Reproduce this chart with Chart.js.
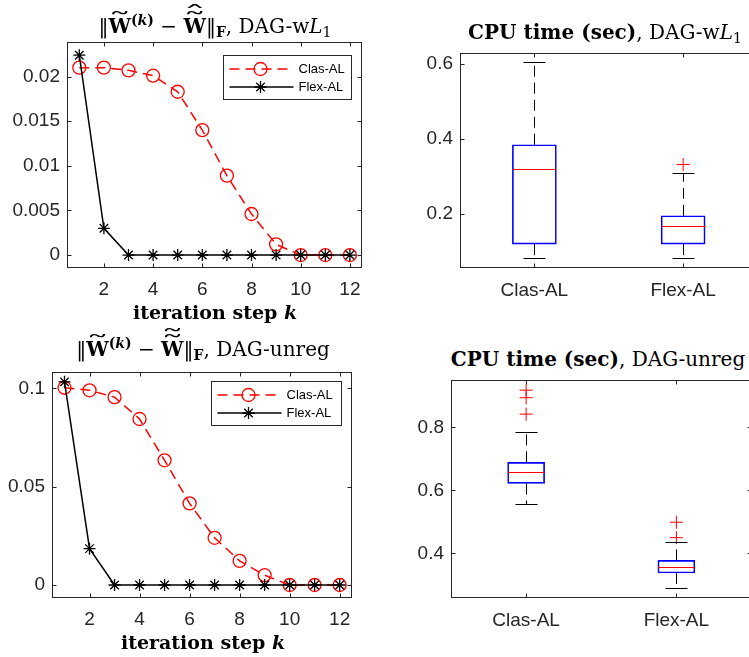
<!DOCTYPE html>
<html lang="en">
<head>
<meta charset="UTF-8" />
<title>Clas-AL vs Flex-AL</title>
<script src="https://cdn.jsdelivr.net/npm/chart.js@4.4.0/dist/chart.umd.min.js"></script>
<style>
  html, body { margin: 0; padding: 0; background: #fff; overflow: hidden; width: 749px; height: 657px; }
  canvas { position: absolute; }
  .lbl {
    position: absolute;
    font-family: 'DejaVu Serif', serif;
    font-size: 20px;
    line-height: 20px;
    color: #000;
    white-space: nowrap;
    transform: translateX(-50%);
  }
  .b { font-weight: bold; }
  .xl { font-size: 19px; }
  sup, sub { font-size: 0.7em; line-height: 0; position: relative; vertical-align: baseline; }
  sup { top: -0.55em; }
  sub { top: 0.3em; }
  .acc { position: relative; display: inline-block; font-weight: bold; }
  .ac { position: absolute; left: 0; right: 0; text-align: center; font-weight: normal; line-height: 1; transform: scaleX(2.4); }
  .a1 { top: -0.3em; }
  .a2 { top: -0.62em; }
</style>
</head>
<body>

<canvas id="errL1"></canvas>
<canvas id="errUnreg"></canvas>
<canvas id="cpuL1"></canvas>
<canvas id="cpuUnreg"></canvas>

<!-- titles and axis labels -->
<div class="lbl" style="left:215px; top:16px">‖<span class="acc">W<span class="ac a1">˜</span></span><sup class="b">(<i>k</i>)</sup> − <span class="acc">W<span class="ac a1">˜</span><span class="ac a2">ˆ</span></span>‖<sub class="b">F</sub>, DAG-w<i>L</i><sub>1</sub></div>
<div class="lbl b xl" style="left:215px; top:302px">iteration step <i>k</i></div>

<div class="lbl" style="left:203px; top:339px">‖<span class="acc">W<span class="ac a1">˜</span></span><sup class="b">(<i>k</i>)</sup> − <span class="acc">W<span class="ac a1">˜</span><span class="ac a2">˜</span></span>‖<sub class="b">F</sub>, DAG-unreg</div>
<div class="lbl b xl" style="left:203px; top:632px">iteration step <i>k</i></div>

<div class="lbl" style="left:605px; top:22px"><b>CPU time (sec)</b>, DAG-w<i>L</i><sub>1</sub></div>
<div class="lbl" style="left:598px; top:349px"><b>CPU time (sec)</b>, DAG-unreg</div>

<script>
// iteration steps
const steps = [1, 2, 3, 4, 5, 6, 7, 8, 9, 10, 11, 12];
const stepTicks = [2, 4, 6, 8, 10, 12];

// ||W(k) - W||_F, DAG-wL1
const clasL1 = [0.0210, 0.0210, 0.0207, 0.0201, 0.0183, 0.0140, 0.0089, 0.0046, 0.0012, 0, 0, 0];
const flexL1 = [0.0224, 0.0030, 0, 0, 0, 0, 0, 0, 0, 0, 0, 0];
const errL1Ticks = [0, 0.005, 0.01, 0.015, 0.02];

// ||W(k) - W||_F, DAG-unreg
const clasUnreg = [0.1003, 0.0990, 0.0955, 0.0844, 0.0634, 0.0415, 0.0240, 0.0123, 0.0050, 0, 0, 0];
const flexUnreg = [0.1033, 0.0185, 0, 0, 0, 0, 0, 0, 0, 0, 0, 0];
const errUnregTicks = [0, 0.05, 0.1];

// CPU time box plots, [Clas-AL, Flex-AL]
const methods = ['Clas-AL', 'Flex-AL'];

const cpuL1Lo  = [0.081, 0.081];
const cpuL1Q1  = [0.118, 0.118];
const cpuL1Med = [0.319, 0.166];
const cpuL1Q3  = [0.384, 0.194];
const cpuL1Hi  = [0.605, 0.309];
const cpuL1Out = [[], [0.331]];
const cpuL1Ticks = [0.2, 0.4, 0.6];

const cpuUnregLo  = [0.556, 0.291];
const cpuUnregQ1  = [0.622, 0.338];
const cpuUnregMed = [0.659, 0.357];
const cpuUnregQ3  = [0.689, 0.378];
const cpuUnregHi  = [0.785, 0.435];
const cpuUnregOut = [[0.918, 0.894, 0.842], [0.499, 0.450]];
const cpuUnregTicks = [0.4, 0.6, 0.8];

const tickFont = { family: '"Liberation Sans", Arial, sans-serif', size: 19 };
const tickColor = '#262626';
const axisColor = '#262626';

// place canvas so that the plot area lands on the given page box
function place(id, ax) {
  const c = document.getElementById(id);
  const L = ax.left - 70, T = ax.top - 6;
  c.width = ax.right - L + 6;
  c.height = ax.bottom - T + 40;
  c.style.left = L + 'px';
  c.style.top = T + 'px';
  return c;
}

function scales(xExtra, yExtra, yTicks, xPad) {
  return {
    x: Object.assign({
      grid: { display: false, drawTicks: false },
      border: { display: false },
      ticks: { font: tickFont, color: tickColor, padding: xPad, maxRotation: 0, autoSkip: false },
      afterFit(s) { s.height = 40; s.paddingLeft = 0; s.paddingRight = 0; }
    }, xExtra),
    y: Object.assign({
      type: 'linear',
      grid: { display: false, drawTicks: false },
      border: { display: false },
      ticks: { font: tickFont, color: tickColor, padding: 7, callback: v => String(v) },
      afterBuildTicks(s) { s.ticks = yTicks.map(v => ({ value: v })); },
      afterFit(s) { s.width = 70; s.paddingTop = 0; s.paddingBottom = 0; }
    }, yExtra)
  };
}

// MATLAB style box around the axes with inward ticks
const frame = {
  id: 'frame',
  beforeDatasetsDraw(chart) {
    const { ctx, chartArea: a, scales: { x, y } } = chart;
    const l = Math.round(a.left) + 0.5, r = Math.round(a.right) - 0.5;
    const t = Math.round(a.top) + 0.5, b = Math.round(a.bottom) - 0.5;
    ctx.save();
    ctx.strokeStyle = axisColor;
    ctx.lineWidth = 1;
    ctx.strokeRect(l, t, r - l, b - t);
    ctx.beginPath();
    x.ticks.forEach((tk, i) => {
      const px = Math.round(x.getPixelForTick(i)) + 0.5;
      ctx.moveTo(px, b); ctx.lineTo(px, b - 4);
      ctx.moveTo(px, t); ctx.lineTo(px, t + 4);
    });
    y.ticks.forEach((tk, i) => {
      const py = Math.round(y.getPixelForTick(i)) + 0.5;
      ctx.moveTo(l, py); ctx.lineTo(l + 4, py);
      ctx.moveTo(r, py); ctx.lineTo(r - 4, py);
    });
    ctx.stroke();
    ctx.restore();
  }
};

// boxed legend in the upper right corner of the plot area
const boxLegend = {
  id: 'boxLegend',
  afterDraw(chart, args, o) {
    if (!o.width) return;
    const { ctx, chartArea: a } = chart;
    const x0 = Math.round(a.right - o.right - o.width) + 0.5;
    const y0 = Math.round(a.top + o.top) + 0.5;
    ctx.save();
    ctx.fillStyle = '#fff';
    ctx.fillRect(x0, y0, o.width, o.height);
    ctx.strokeStyle = axisColor;
    ctx.lineWidth = 1;
    ctx.strokeRect(x0, y0, o.width, o.height);
    chart.data.datasets.forEach((ds, i) => {
      const yy = y0 + 13.5 + i * 18;
      ctx.strokeStyle = ds.borderColor;
      ctx.lineWidth = ds.borderWidth;
      ctx.setLineDash(ds.borderDash || []);
      ctx.beginPath();
      ctx.moveTo(x0 + 6, yy);
      ctx.lineTo(x0 + 70, yy);
      ctx.stroke();
      ctx.setLineDash([]);
      ctx.strokeStyle = ds.pointBorderColor;
      ctx.fillStyle = 'rgba(0,0,0,0)';
      ctx.lineWidth = ds.pointBorderWidth;
      Chart.helpers.drawPoint(ctx, { pointStyle: ds.pointStyle, radius: ds.pointRadius, borderWidth: ds.pointBorderWidth, rotation: 0 }, x0 + 37, yy);
      ctx.fillStyle = '#000';
      ctx.font = '13px "Liberation Sans", Arial, sans-serif';
      ctx.textAlign = 'left';
      ctx.textBaseline = 'middle';
      ctx.fillText(ds.label, x0 + 75, yy + 0.5);
    });
    ctx.restore();
  }
};

// medians, whiskers and caps on top of the floating bars
const boxStats = {
  id: 'boxStats',
  afterDatasetsDraw(chart, args, o) {
    const { ctx, scales: { x, y } } = chart;
    const bars = chart.getDatasetMeta(0).data;
    const seg = (x1, y1, x2, y2) => { ctx.beginPath(); ctx.moveTo(x1, y1); ctx.lineTo(x2, y2); ctx.stroke(); };
    ctx.save();
    ctx.lineWidth = 1;
    o.med.forEach((m, i) => {
      const cx = Math.round(x.getPixelForValue(i)) + 0.5;
      const half = bars[i].width / 2;
      const yLo = Math.round(y.getPixelForValue(o.lo[i])) + 0.5;
      const yHi = Math.round(y.getPixelForValue(o.hi[i])) + 0.5;
      const yQ1 = y.getPixelForValue(o.q1[i]);
      const yQ3 = y.getPixelForValue(o.q3[i]);
      const yMed = Math.round(y.getPixelForValue(m)) + 0.5;
      ctx.strokeStyle = '#000';
      ctx.setLineDash([11, 6]);
      seg(cx, yQ3, cx, yHi);
      seg(cx, yQ1, cx, yLo);
      ctx.setLineDash([]);
      seg(cx - 11, yHi, cx + 11, yHi);
      seg(cx - 11, yLo, cx + 11, yLo);
      ctx.strokeStyle = '#ff0000';
      seg(cx - half, yMed, cx + half, yMed);
    });
    ctx.restore();
  }
};

const pts = vals => steps.map((k, i) => ({ x: k, y: vals[i] }));

function errChart(id, ax, clas, flex, yTicks, yMin, yMax, legendPos) {
  place(id, ax);
  return new Chart(document.getElementById(id), {
    type: 'line',
    data: {
      datasets: [
        { label: 'Clas-AL', data: pts(clas), borderColor: '#ff0000', borderWidth: 1.5, borderDash: [10, 6],
          pointStyle: 'circle', pointRadius: 6.5, pointBorderWidth: 1.3, pointBorderColor: '#ff0000',
          pointBackgroundColor: 'rgba(0,0,0,0)', tension: 0, order: 1 },
        { label: 'Flex-AL', data: pts(flex), borderColor: '#000000', borderWidth: 1.5,
          pointStyle: 'star', pointRadius: 6, pointBorderWidth: 1.3, pointBorderColor: '#000000',
          pointBackgroundColor: 'rgba(0,0,0,0)', tension: 0, order: 0 }
      ]
    },
    options: {
      responsive: false,
      animation: false,
      events: [],
      layout: { padding: { left: 0, top: 6, right: 6, bottom: 0 } },
      plugins: { legend: { display: false }, tooltip: { enabled: false }, boxLegend: legendPos },
      scales: scales(
        { type: 'linear', min: 0.5, max: 12.5, afterBuildTicks(s) { s.ticks = stepTicks.map(v => ({ value: v })); } },
        { min: yMin, max: yMax },
        yTicks, 10)
    },
    plugins: [frame, boxLegend]
  });
}

function cpuChart(id, ax, lo, q1, med, q3, hi, out, yTicks, yMin, yMax, boxW) {
  place(id, ax);
  const outliers = out.flatMap((arr, i) => arr.map(v => ({ x: methods[i], y: v })));
  return new Chart(document.getElementById(id), {
    type: 'bar',
    data: {
      labels: methods,
      datasets: [
        { data: methods.map((m, i) => [q1[i], q3[i]]), backgroundColor: 'rgba(0,0,0,0)',
          borderColor: '#0000ff', borderWidth: 1, borderSkipped: false, barThickness: boxW },
        { type: 'line', data: outliers, showLine: false, pointStyle: 'cross', pointRadius: 6.5,
          pointBorderWidth: 1, pointBorderColor: '#ff0000', pointBackgroundColor: 'rgba(0,0,0,0)' }
      ]
    },
    options: {
      responsive: false,
      animation: false,
      events: [],
      layout: { padding: { left: 0, top: 6, right: 6, bottom: 0 } },
      plugins: { legend: { display: false }, tooltip: { enabled: false },
                 boxStats: { lo, q1, med, q3, hi } },
      scales: scales({ type: 'category', offset: true }, { min: yMin, max: yMax }, yTicks, 11)
    },
    plugins: [frame, boxStats]
  });
}

errChart('errL1', { left: 67, top: 40, right: 364, bottom: 268 }, clasL1, flexL1, errL1Ticks, -0.00145, 0.0239,
  { right: 11, top: 13, width: 128, height: 44 });
errChart('errUnreg', { left: 52, top: 370, right: 354, bottom: 598 }, clasUnreg, flexUnreg, errUnregTicks, -0.0066, 0.1084,
  { right: 11, top: 9, width: 130, height: 44 });
cpuChart('cpuL1', { left: 460, top: 51, right: 759, bottom: 268 },
  cpuL1Lo, cpuL1Q1, cpuL1Med, cpuL1Q3, cpuL1Hi, cpuL1Out, cpuL1Ticks, 0.0543, 0.6307, 44);
cpuChart('cpuUnreg', { left: 451, top: 378, right: 753, bottom: 598 },
  cpuUnregLo, cpuUnregQ1, cpuUnregMed, cpuUnregQ3, cpuUnregHi, cpuUnregOut, cpuUnregTicks, 0.2586, 0.9518, 37);
</script>
</body>
</html>
